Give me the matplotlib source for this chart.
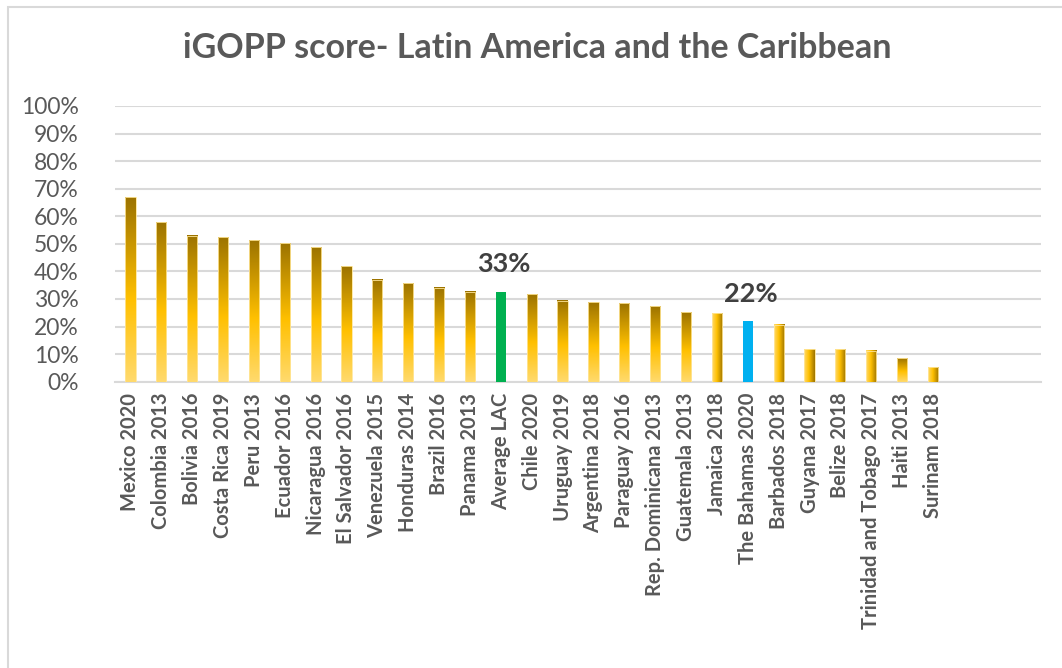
import matplotlib
matplotlib.use("Agg")
import matplotlib.pyplot as plt
import numpy as np
from matplotlib.colors import LinearSegmentedColormap
from matplotlib.patches import Rectangle

countries = ["Mexico 2020", "Colombia 2013", "Bolivia 2016", "Costa Rica 2019",
             "Peru 2013", "Ecuador 2016", "Nicaragua 2016", "El Salvador 2016",
             "Venezuela 2015", "Honduras 2014", "Brazil 2016", "Panama 2013",
             "Average LAC", "Chile 2020", "Uruguay 2019", "Argentina 2018",
             "Paraguay 2016", "Rep. Dominicana 2013", "Guatemala 2013",
             "Jamaica 2018", "The Bahamas 2020", "Barbados 2018", "Guyana 2017",
             "Belize 2018", "Trinidad and Tobago 2017", "Haiti 2013", "Surinam 2018"]
scores = [0.67, 0.58, 0.53, 0.525, 0.515, 0.503, 0.489, 0.419, 0.37,
          0.358, 0.341, 0.327, 0.327, 0.319, 0.294, 0.289, 0.284,
          0.275, 0.253, 0.249, 0.221, 0.207, 0.118, 0.118, 0.113,
          0.085, 0.052]
callouts = {"Average LAC": "33%", "The Bahamas 2020": "22%"}

# bar looks
solid = {"Average LAC": "#00B050", "The Bahamas 2020": "#00B0F0"}
sideways = {"Jamaica 2018", "Barbados 2018", "Guyana 2017", "Belize 2018",
            "Trinidad and Tobago 2017", "Surinam 2018"}
gold = LinearSegmentedColormap.from_list(
    "gold", [(0.0, "#FFDA6E"), (0.45, "#FFC000"), (1.0, "#9C7300")])

plt.rcParams['font.family'] = ['Lato', 'DejaVu Sans']
grey = "#595959"

fig = plt.figure(figsize=(10.62, 6.68), dpi=100)
fig.patches.append(Rectangle((8 / 1062, -0.1), 1.2, 1.1 - 7 / 668,
                             transform=fig.transFigure, fill=False,
                             edgecolor="#D9D9D9", linewidth=1.5))
ax = fig.add_axes([115 / 1062, 1 - 381.7 / 668, (1041 - 115) / 1062, (381.7 - 106) / 668])

w = 0.33
ramp = np.linspace(0, 1, 256)
for i, (name, v) in enumerate(zip(countries, scores)):
    if name in solid:
        ax.bar(i, v, width=w, color=solid[name], zorder=3)
        continue
    if name in sideways:
        img = ramp.reshape(1, -1)
    else:
        img = ramp.reshape(-1, 1)
    ax.imshow(img, cmap=gold, extent=[i - w / 2, i + w / 2, 0, v], origin="lower",
              aspect="auto", interpolation="bilinear", zorder=3)
    ax.bar(i, v, width=w, fill=False, edgecolor="#FFE699", linewidth=0.6, zorder=4)

for name, txt in callouts.items():
    i = countries.index(name)
    ax.text(i + 0.1, scores[i] + 0.055, txt, ha="center", va="bottom",
            fontsize=19.5, fontweight="bold", color="#404040")

ax.set_xlim(-0.5, 29.5)
ax.set_ylim(0, 1.0)
ax.set_yticks(np.arange(0, 1.01, 0.1))
ax.set_yticklabels([f"{int(round(t * 100))}%" for t in np.arange(0, 1.01, 0.1)])
ax.set_xticks(range(len(countries)))
ax.set_xticklabels(countries, rotation=90, fontsize=14.5, fontweight="bold", color=grey)
ax.tick_params(axis="y", labelsize=16.5, labelcolor=grey, length=0, pad=26)
ax.tick_params(axis="x", length=0, pad=8)
ax.grid(axis="y", color="#D9D9D9", linewidth=1.5, zorder=0)
ax.set_axisbelow(True)
for s in ["top", "right", "left"]:
    ax.spines[s].set_visible(False)
ax.spines["bottom"].set_color("#D9D9D9")
ax.spines["bottom"].set_linewidth(1.5)

fig.text(537 / 1062, 1 - 48 / 668, "iGOPP score- Latin America and the Caribbean",
         ha="center", va="center", fontsize=24.5, fontweight="bold", color=grey)

fig.savefig("out.png", dpi=100)
